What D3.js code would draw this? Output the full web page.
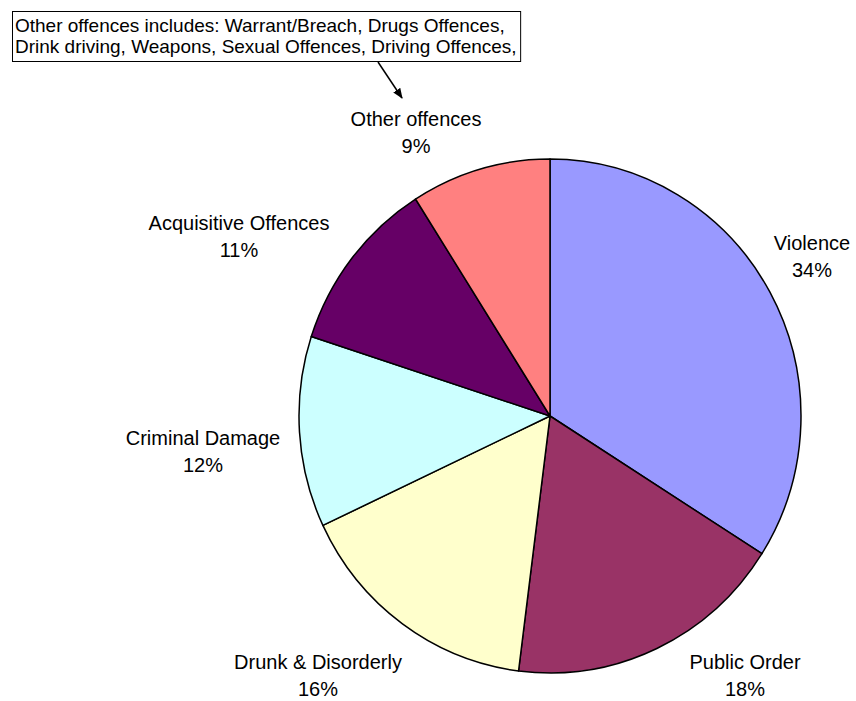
<!DOCTYPE html>
<html>
<head>
<meta charset="utf-8">
<script src="https://cdn.jsdelivr.net/npm/d3@7"></script>
<style>
  html, body { margin: 0; padding: 0; background: #fff; }
  svg { display: block; font-family: "Liberation Sans", Arial, sans-serif; }
</style>
</head>
<body>
<svg id="chart" width="856" height="701"></svg>
<script>
// Offence categories, share of total (%) and slice colours, clockwise from 12 o'clock
const categories = ["Violence", "Public Order", "Drunk & Disorderly", "Criminal Damage", "Acquisitive Offences", "Other offences"];
const shares = [34, 18, 16, 12, 11, 9];
const colors = ["#9999FF", "#993366", "#FFFFCC", "#CCFFFF", "#660066", "#FF8080"];

const noteLines = [
  "Other offences includes: Warrant/Breach, Drugs Offences,",
  "Drink driving, Weapons, Sexual Offences, Driving Offences,"
];

// Label anchors (centre x, first-line baseline y) for each category
const labelLayout = [
  [812, 250], [745, 669], [318, 669], [203, 445], [239, 230], [416, 126]
];

const svg = d3.select("#chart");
const cx = 550, cy = 416, rx = 251, ry = 257;

const data = categories.map((c, i) => ({ name: c, value: shares[i], color: colors[i] }));
const pie = d3.pie().value(d => d.value).sort(null);
const arc = d3.arc().innerRadius(0).outerRadius(rx);

const g = svg.append("g")
  .attr("transform", `translate(${cx},${cy}) scale(1,${ry / rx})`);

g.selectAll("path")
  .data(pie(data))
  .join("path")
  .attr("d", arc)
  .attr("fill", d => d.data.color)
  .attr("stroke", "#000")
  .attr("stroke-width", 1.5)
  .attr("stroke-linejoin", "round")
  .attr("vector-effect", "non-scaling-stroke");

// Category labels with percentages
const labels = svg.append("g").attr("font-size", 20).attr("fill", "#000").attr("text-anchor", "middle");
data.forEach((d, i) => {
  const [lx, ly] = labelLayout[i];
  const t = labels.append("text").attr("x", lx).attr("y", ly);
  t.append("tspan").attr("x", lx).attr("dy", 0).text(d.name);
  t.append("tspan").attr("x", lx).attr("dy", 27).text(d.value + "%");
});

// Note box describing "Other offences"
const note = svg.append("g");
const noteText = note.append("text")
  .attr("font-size", 19)
  .attr("fill", "#000");
noteLines.forEach((line, i) => {
  noteText.append("tspan").attr("x", 15).attr("y", 32 + i * 21).text(line);
});
const bb = noteText.node().getBBox();
note.insert("rect", "text")
  .attr("x", 12.5).attr("y", 11.5)
  .attr("width", bb.x + bb.width + 4 - 12.5)
  .attr("height", 50)
  .attr("fill", "#fff")
  .attr("stroke", "#000")
  .attr("stroke-width", 1);

// Arrow from the note to the Other offences label
svg.append("defs").append("marker")
  .attr("id", "arrowhead")
  .attr("viewBox", "0 0 10 10")
  .attr("refX", 9).attr("refY", 5)
  .attr("markerWidth", 7).attr("markerHeight", 7)
  .attr("orient", "auto")
  .append("path").attr("d", "M0,1 L10,5 L0,9 Z").attr("fill", "#000");

svg.append("line")
  .attr("x1", 378).attr("y1", 62)
  .attr("x2", 402).attr("y2", 98)
  .attr("stroke", "#000")
  .attr("stroke-width", 1.5)
  .attr("marker-end", "url(#arrowhead)");
</script>
</body>
</html>
